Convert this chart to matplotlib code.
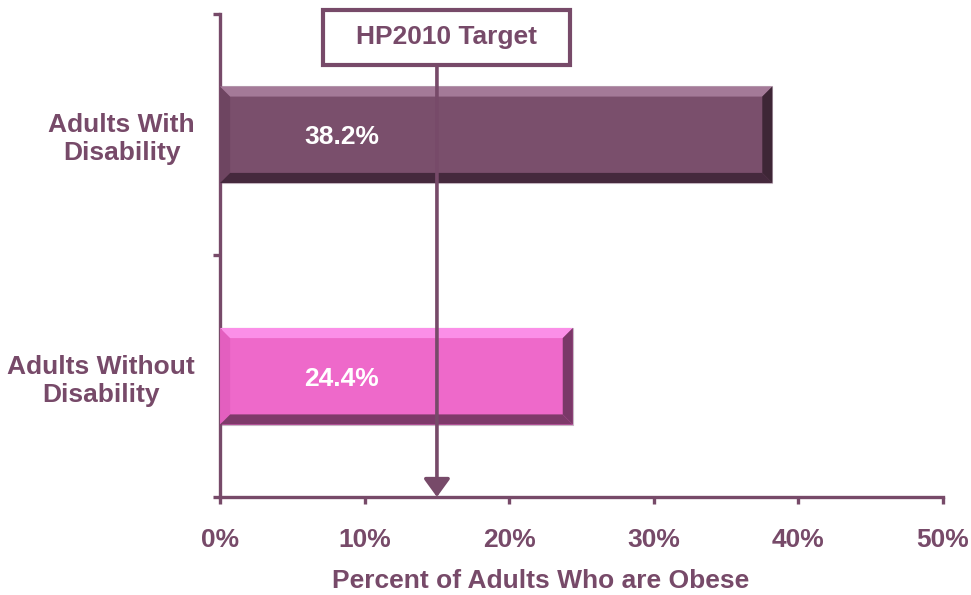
import matplotlib
matplotlib.use('Agg')
from matplotlib import pyplot as plt
from matplotlib.patches import Polygon, Rectangle

plt.rcParams['font.family'] = ['Liberation Sans', 'DejaVu Sans']
plt.rcParams['font.weight'] = 'bold'

# data
groups = ['Adults Without\nDisability', 'Adults With\nDisability']
values = [24.4, 38.2]
value_labels = ['24.4%', '38.2%']
target = 15
target_label = 'HP2010 Target'
xticks = [0, 10, 20, 30, 40, 50]
xtick_labels = ['0%', '10%', '20%', '30%', '40%', '50%']

purple = '#774A69'
bar_colors = ['#EE69CA', '#7A4F6C']
hi_colors = ['#FB8FE8', '#A47A98']
lo_colors = ['#7E3A6A', '#45293D']
side_colors = ['#7A3868', '#3E2636']
left_colors = ['#E35FBF', '#6E4561']

fig = plt.figure(figsize=(9.71, 5.95), dpi=100)
ax = fig.add_axes([0.2266, 0.1647, 0.7446, 0.8118])

ypos = list(range(len(groups)))
bars = ax.barh(ypos, values, height=0.4, color=bar_colors,
               edgecolor='#C8B8C4', linewidth=0.8, zorder=2)


def bevel(ax, p, hi, lo, side, left, dx=0.7, dy=0.042):
    x0, y0 = p.get_x(), p.get_y()
    x1, y1 = x0 + p.get_width(), y0 + p.get_height()
    ax.add_patch(Polygon([(x0, y0), (x0, y1), (x0 + dx, y1 - dy), (x0 + dx, y0 + dy)],
                         closed=True, color=left, lw=0, zorder=3))
    ax.add_patch(Polygon([(x0, y1), (x1, y1), (x1 - dx, y1 - dy), (x0 + dx, y1 - dy)],
                         closed=True, color=hi, lw=0, zorder=3))
    ax.add_patch(Polygon([(x0, y0), (x1, y0), (x1 - dx, y0 + dy), (x0 + dx, y0 + dy)],
                         closed=True, color=lo, lw=0, zorder=3))
    ax.add_patch(Polygon([(x1, y0), (x1, y1), (x1 - dx, y1 - dy), (x1 - dx, y0 + dy)],
                         closed=True, color=side, lw=0, zorder=3))


for b, h, l, s, lf in zip(bars, hi_colors, lo_colors, side_colors, left_colors):
    bevel(ax, b, h, l, s, lf)

for y, lab in zip(ypos, value_labels):
    ax.text(8.4, y - 0.01, lab, color='white', fontsize=19, fontweight='bold',
            ha='center', va='center', zorder=4)

ax.set_xlim(0, 50)
ax.set_ylim(-0.5, 1.5)

# target marker
box_bottom = 1.289
ax.annotate('', xy=(target, -0.5), xytext=(target, box_bottom),
            arrowprops=dict(arrowstyle='-|>,head_length=1.1,head_width=0.8',
                            color=purple, lw=2.6, shrinkA=0, shrinkB=0),
            zorder=5, annotation_clip=False)
ax.add_patch(Rectangle((7.12, box_bottom), 24.2 - 7.12, 1.517 - box_bottom,
                       facecolor='white', edgecolor=purple, lw=3,
                       clip_on=False, zorder=6))
ax.text((7.12 + 24.2) / 2, (1.517 + box_bottom) / 2, target_label, color=purple,
        fontsize=19, fontweight='bold', ha='center', va='center', zorder=7)

for side in ['top', 'right']:
    ax.spines[side].set_visible(False)
for side in ['left', 'bottom']:
    ax.spines[side].set_color(purple)
    ax.spines[side].set_linewidth(2.4)

ax.set_xticks(xticks)
ax.set_xticklabels(xtick_labels)
ax.tick_params(axis='x', colors=purple, width=2.4, length=5, pad=17,
               labelsize=19)
for t in ax.get_xticklabels():
    t.set_fontweight('bold')

ax.set_yticks([-0.5, 0.5, 1.5], minor=True)
ax.set_yticks(ypos)
ax.set_yticklabels(groups)
ax.tick_params(axis='y', which='minor', colors=purple, width=2.4, length=5)
ax.tick_params(axis='y', which='major', length=0, pad=18, labelsize=19,
               labelcolor=purple)
for t in ax.get_yticklabels():
    t.set_fontweight('bold')
    t.set_multialignment('center')

ax.set_xlabel('Percent of Adults Who are Obese', color=purple, fontsize=19,
              fontweight='bold', va='center')
ax.xaxis.set_label_coords(0.443, -0.174)

fig.savefig('out.png', dpi=100)
